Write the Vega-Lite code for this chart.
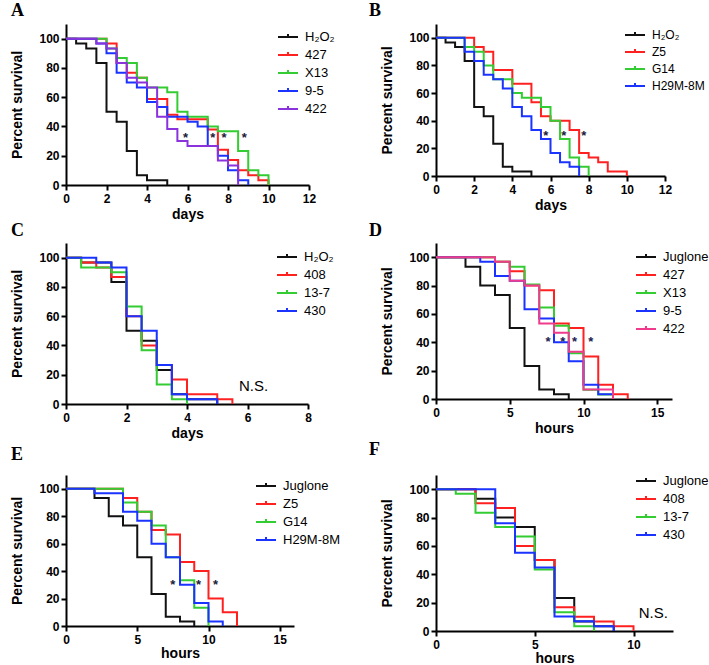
{
"$schema": "https://vega.github.io/schema/vega-lite/v6.json",
"padding": {"left": 10, "top": 2, "right": 0, "bottom": 0},
"background": "white",
"config": {
  "view": {"stroke": null},
  "axis": {"grid": false, "domainColor": "black", "domainWidth": 2, "tickColor": "black", "tickWidth": 2, "tickSize": 5,
    "labelFont": "Liberation Sans", "labelFontWeight": "bold", "labelFontSize": 12, "labelColor": "black", "labelPadding": 3, "labelOverlap": false, "labelFlush": false,
    "titleFont": "Liberation Sans", "titleFontWeight": "bold", "titleFontSize": 14, "titleColor": "black"},
  "axisX": {"titlePadding": 3},
  "axisY": {"titlePadding": 14, "labelPadding": 2},
  "legend": {"title": null, "labelFont": "Liberation Sans", "labelFontSize": 13, "labelColor": "black", "symbolStrokeWidth": 2,
    "symbolSize": 400, "symbolType": "M-1,0H1M0,0V-0.3", "rowPadding": -4, "labelOffset": 6},
  "title": {"font": "Liberation Serif", "fontSize": 18, "fontWeight": "bold", "anchor": "start", "frame": "bounds", "color": "black", "offset": 0},
  "text": {"font": "Liberation Sans"}
},
"datasets": {
  "A": [
    {"g":"H₂O₂","t":0,"s":100},{"g":"H₂O₂","t":0.5,"s":96.7},{"g":"H₂O₂","t":1,"s":93.3},{"g":"H₂O₂","t":1.5,"s":83.3},{"g":"H₂O₂","t":2,"s":50},{"g":"H₂O₂","t":2.5,"s":43.3},{"g":"H₂O₂","t":3,"s":23.3},{"g":"H₂O₂","t":3.5,"s":6.7},{"g":"H₂O₂","t":4,"s":3.3},{"g":"H₂O₂","t":5,"s":0},
    {"g":"427","t":0,"s":100},{"g":"427","t":2,"s":96.7},{"g":"427","t":2.5,"s":83.3},{"g":"427","t":3,"s":76.7},{"g":"427","t":3.5,"s":73.3},{"g":"427","t":4,"s":58.7},{"g":"427","t":5,"s":48},{"g":"427","t":5.5,"s":45},{"g":"427","t":7,"s":38},{"g":"427","t":7.5,"s":24},{"g":"427","t":8,"s":17},{"g":"427","t":8.5,"s":10},{"g":"427","t":9,"s":6.7},{"g":"427","t":9.5,"s":3.3},{"g":"427","t":10,"s":0},
    {"g":"X13","t":0,"s":100},{"g":"X13","t":2,"s":93.3},{"g":"X13","t":2.5,"s":86.7},{"g":"X13","t":3,"s":83.3},{"g":"X13","t":3.5,"s":73.3},{"g":"X13","t":4,"s":66.7},{"g":"X13","t":5,"s":63.3},{"g":"X13","t":5.5,"s":50},{"g":"X13","t":6,"s":46.7},{"g":"X13","t":7,"s":40},{"g":"X13","t":7.5,"s":36.7},{"g":"X13","t":8.5,"s":23.3},{"g":"X13","t":9,"s":10},{"g":"X13","t":9.5,"s":6.7},{"g":"X13","t":10,"s":0},
    {"g":"9-5","t":0,"s":100},{"g":"9-5","t":1.5,"s":96.7},{"g":"9-5","t":2,"s":90},{"g":"9-5","t":2.5,"s":76.7},{"g":"9-5","t":3,"s":70},{"g":"9-5","t":3.5,"s":66.7},{"g":"9-5","t":4,"s":56.7},{"g":"9-5","t":4.5,"s":53.3},{"g":"9-5","t":5,"s":46.7},{"g":"9-5","t":6,"s":43.3},{"g":"9-5","t":6.5,"s":40},{"g":"9-5","t":7,"s":26.7},{"g":"9-5","t":7.5,"s":20},{"g":"9-5","t":8,"s":10},{"g":"9-5","t":8.5,"s":3.3},{"g":"9-5","t":9,"s":0},
    {"g":"422","t":0,"s":100},{"g":"422","t":1.5,"s":96.7},{"g":"422","t":2,"s":93.3},{"g":"422","t":2.5,"s":83.3},{"g":"422","t":3,"s":73.3},{"g":"422","t":3.5,"s":70},{"g":"422","t":4,"s":66.7},{"g":"422","t":4.5,"s":46.7},{"g":"422","t":5,"s":38.3},{"g":"422","t":5.5,"s":30},{"g":"422","t":6,"s":26.7},{"g":"422","t":7.5,"s":16.7},{"g":"422","t":8,"s":13.3},{"g":"422","t":8.5,"s":0}
  ],
  "B": [
    {"g":"H₂O₂","t":0,"s":100},{"g":"H₂O₂","t":0.5,"s":96.7},{"g":"H₂O₂","t":1,"s":93.3},{"g":"H₂O₂","t":1.5,"s":83.3},{"g":"H₂O₂","t":2,"s":50},{"g":"H₂O₂","t":2.5,"s":43.3},{"g":"H₂O₂","t":3,"s":23.3},{"g":"H₂O₂","t":3.5,"s":6.7},{"g":"H₂O₂","t":4,"s":3.3},{"g":"H₂O₂","t":5,"s":0},
    {"g":"Z5","t":0,"s":100},{"g":"Z5","t":2,"s":93.3},{"g":"Z5","t":2.5,"s":90},{"g":"Z5","t":3,"s":76.7},{"g":"Z5","t":4,"s":66.7},{"g":"Z5","t":5,"s":53.3},{"g":"Z5","t":5.5,"s":43.3},{"g":"Z5","t":6,"s":40},{"g":"Z5","t":7,"s":33.3},{"g":"Z5","t":7.5,"s":16.7},{"g":"Z5","t":8,"s":13.3},{"g":"Z5","t":8.5,"s":10},{"g":"Z5","t":9,"s":3.3},{"g":"Z5","t":10,"s":0},
    {"g":"G14","t":0,"s":100},{"g":"G14","t":1.5,"s":93.3},{"g":"G14","t":2,"s":90},{"g":"G14","t":2.5,"s":80},{"g":"G14","t":3,"s":70},{"g":"G14","t":4,"s":60},{"g":"G14","t":4.5,"s":56.7},{"g":"G14","t":5.5,"s":50},{"g":"G14","t":6,"s":40},{"g":"G14","t":6.5,"s":26.7},{"g":"G14","t":7,"s":13.3},{"g":"G14","t":7.5,"s":6.7},{"g":"G14","t":8,"s":0},
    {"g":"H29M-8M","t":0,"s":100},{"g":"H29M-8M","t":1.5,"s":90},{"g":"H29M-8M","t":2,"s":83.3},{"g":"H29M-8M","t":2.5,"s":73.3},{"g":"H29M-8M","t":3,"s":70},{"g":"H29M-8M","t":3.5,"s":63.3},{"g":"H29M-8M","t":4,"s":50},{"g":"H29M-8M","t":4.5,"s":43.3},{"g":"H29M-8M","t":5,"s":33.3},{"g":"H29M-8M","t":5.5,"s":26.7},{"g":"H29M-8M","t":6,"s":16.7},{"g":"H29M-8M","t":6.5,"s":10},{"g":"H29M-8M","t":7,"s":6.7},{"g":"H29M-8M","t":7.5,"s":0}
  ],
  "C": [
    {"g":"H₂O₂","t":0,"s":100},{"g":"H₂O₂","t":0.5,"s":96.7},{"g":"H₂O₂","t":1.5,"s":83.3},{"g":"H₂O₂","t":2,"s":50},{"g":"H₂O₂","t":2.5,"s":43.3},{"g":"H₂O₂","t":3,"s":23.3},{"g":"H₂O₂","t":3.5,"s":6.7},{"g":"H₂O₂","t":4,"s":3.3},{"g":"H₂O₂","t":5,"s":0},
    {"g":"408","t":0,"s":100},{"g":"408","t":0.5,"s":96.7},{"g":"408","t":1,"s":93.3},{"g":"408","t":1.5,"s":86.7},{"g":"408","t":2,"s":60},{"g":"408","t":2.5,"s":40},{"g":"408","t":3,"s":26.7},{"g":"408","t":3.5,"s":16.7},{"g":"408","t":4,"s":6.7},{"g":"408","t":5,"s":3.3},{"g":"408","t":5.5,"s":0},
    {"g":"13-7","t":0,"s":100},{"g":"13-7","t":0.5,"s":93.3},{"g":"13-7","t":1.5,"s":90},{"g":"13-7","t":2,"s":66.7},{"g":"13-7","t":2.5,"s":36.7},{"g":"13-7","t":3,"s":13.3},{"g":"13-7","t":3.5,"s":3.3},{"g":"13-7","t":4,"s":0},
    {"g":"430","t":0,"s":100},{"g":"430","t":1,"s":96.7},{"g":"430","t":1.5,"s":93.3},{"g":"430","t":2,"s":60},{"g":"430","t":2.5,"s":50},{"g":"430","t":3,"s":26.7},{"g":"430","t":3.5,"s":6.7},{"g":"430","t":4,"s":3.3},{"g":"430","t":5,"s":0}
  ],
  "D": [
    {"g":"Juglone","t":0,"s":100},{"g":"Juglone","t":2,"s":93.3},{"g":"Juglone","t":3,"s":80},{"g":"Juglone","t":4,"s":73.3},{"g":"Juglone","t":5,"s":50},{"g":"Juglone","t":6,"s":23.3},{"g":"Juglone","t":7,"s":6.7},{"g":"Juglone","t":8,"s":3.3},{"g":"Juglone","t":9,"s":0},
    {"g":"427","t":0,"s":100},{"g":"427","t":4,"s":96.7},{"g":"427","t":5,"s":90},{"g":"427","t":6,"s":80},{"g":"427","t":7,"s":76.7},{"g":"427","t":8,"s":53.3},{"g":"427","t":9,"s":50},{"g":"427","t":10,"s":30},{"g":"427","t":11,"s":10},{"g":"427","t":12,"s":3.3},{"g":"427","t":13,"s":0},
    {"g":"X13","t":0,"s":100},{"g":"X13","t":4,"s":96.7},{"g":"X13","t":5,"s":93.3},{"g":"X13","t":6,"s":80.7},{"g":"X13","t":7,"s":64.5},{"g":"X13","t":8,"s":51.6},{"g":"X13","t":9,"s":32.3},{"g":"X13","t":10,"s":6.5},{"g":"X13","t":11,"s":3.2},{"g":"X13","t":12,"s":0},
    {"g":"9-5","t":0,"s":100},{"g":"9-5","t":3,"s":96.7},{"g":"9-5","t":4,"s":86.7},{"g":"9-5","t":5,"s":83.3},{"g":"9-5","t":6,"s":63.3},{"g":"9-5","t":7,"s":56.7},{"g":"9-5","t":8,"s":40},{"g":"9-5","t":9,"s":26.7},{"g":"9-5","t":10,"s":10},{"g":"9-5","t":11,"s":3.3},{"g":"9-5","t":12,"s":0},
    {"g":"422","t":0,"s":100},{"g":"422","t":4,"s":96.7},{"g":"422","t":5,"s":83.3},{"g":"422","t":6,"s":80},{"g":"422","t":7,"s":53.3},{"g":"422","t":8,"s":46.7},{"g":"422","t":9,"s":33.3},{"g":"422","t":10,"s":6.7},{"g":"422","t":12,"s":0}
  ],
  "E": [
    {"g":"Juglone","t":0,"s":100},{"g":"Juglone","t":2,"s":93.3},{"g":"Juglone","t":3,"s":80},{"g":"Juglone","t":4,"s":73.3},{"g":"Juglone","t":5,"s":50},{"g":"Juglone","t":6,"s":23.3},{"g":"Juglone","t":7,"s":6.7},{"g":"Juglone","t":8,"s":3.3},{"g":"Juglone","t":9,"s":0},
    {"g":"Z5","t":0,"s":100},{"g":"Z5","t":4,"s":93.3},{"g":"Z5","t":5,"s":83.3},{"g":"Z5","t":6,"s":70},{"g":"Z5","t":7,"s":66.7},{"g":"Z5","t":8,"s":46.7},{"g":"Z5","t":9,"s":40},{"g":"Z5","t":10,"s":20},{"g":"Z5","t":11,"s":10},{"g":"Z5","t":12,"s":0},
    {"g":"G14","t":0,"s":100},{"g":"G14","t":4,"s":90},{"g":"G14","t":5,"s":83.3},{"g":"G14","t":6,"s":73.3},{"g":"G14","t":7,"s":50},{"g":"G14","t":8,"s":33.3},{"g":"G14","t":9,"s":13.3},{"g":"G14","t":10,"s":0},
    {"g":"H29M-8M","t":0,"s":100},{"g":"H29M-8M","t":2,"s":96.7},{"g":"H29M-8M","t":4,"s":83.3},{"g":"H29M-8M","t":5,"s":76.7},{"g":"H29M-8M","t":6,"s":60},{"g":"H29M-8M","t":7,"s":50},{"g":"H29M-8M","t":8,"s":30},{"g":"H29M-8M","t":9,"s":16.7},{"g":"H29M-8M","t":10,"s":3.3},{"g":"H29M-8M","t":11,"s":0}
  ],
  "F": [
    {"g":"Juglone","t":0,"s":100},{"g":"Juglone","t":2,"s":93.3},{"g":"Juglone","t":3,"s":80},{"g":"Juglone","t":4,"s":73.3},{"g":"Juglone","t":5,"s":50},{"g":"Juglone","t":6,"s":23.3},{"g":"Juglone","t":7,"s":6.7},{"g":"Juglone","t":8,"s":3.3},{"g":"Juglone","t":9,"s":0},
    {"g":"408","t":0,"s":100},{"g":"408","t":2,"s":90},{"g":"408","t":3,"s":86.7},{"g":"408","t":4,"s":60},{"g":"408","t":5,"s":50},{"g":"408","t":6,"s":16.7},{"g":"408","t":7,"s":10},{"g":"408","t":8,"s":6.7},{"g":"408","t":9,"s":3.3},{"g":"408","t":10,"s":0},
    {"g":"13-7","t":0,"s":100},{"g":"13-7","t":1,"s":96.7},{"g":"13-7","t":2,"s":83.3},{"g":"13-7","t":3,"s":73.3},{"g":"13-7","t":4,"s":66.7},{"g":"13-7","t":5,"s":43.3},{"g":"13-7","t":6,"s":13.3},{"g":"13-7","t":7,"s":3.3},{"g":"13-7","t":8,"s":0},
    {"g":"430","t":0,"s":100},{"g":"430","t":3,"s":75.9},{"g":"430","t":4,"s":55.2},{"g":"430","t":5,"s":44.8},{"g":"430","t":6,"s":10.3},{"g":"430","t":7,"s":6.9},{"g":"430","t":8,"s":3.4},{"g":"430","t":9,"s":0}
  ],
  "starsA": [{"t":5.9,"s":34},{"t":7.25,"s":34},{"t":7.8,"s":34},{"t":8.8,"s":34}],
  "starsB": [{"t":5.75,"s":31},{"t":6.7,"s":31},{"t":7.75,"s":31}],
  "starsD": [{"t":7.6,"s":42},{"t":8.6,"s":42},{"t":9.4,"s":42},{"t":10.5,"s":42}],
  "starsE": [{"t":7.5,"s":32},{"t":9.3,"s":32},{"t":10.5,"s":32}],
  "nsC": [{"t":6.2,"s":12,"label":"N.S."}],
  "nsF": [{"t":11.0,"s":13,"label":"N.S."}]
},
"columns": 2,
"bounds": "full",
"spacing": {"row": 1, "column": 27},
"resolve": {"scale": {"color": "independent", "x": "independent", "y": "independent"}, "legend": {"color": "independent"}},
"concat": [
  {"width": 243, "height": 161, "title": {"text": "A"},
   "layer": [
    {"data": {"name": "A"}, "mark": {"type": "line", "interpolate": "step-after", "strokeWidth": 2},
     "encoding": {
      "x": {"field": "t", "type": "quantitative", "scale": {"domain": [0, 12]}, "axis": {"values": [0,2,4,6,8,10,12], "tickCount": 20, "format": "d", "title": "days", "labelFlush": false}},
      "y": {"field": "s", "type": "quantitative", "scale": {"domain": [0, 110]}, "axis": {"values": [0,20,40,60,80,100], "tickCount": 20, "format": "d", "title": "Percent survival", "labelOverlap": false}},
      "color": {"field": "g", "type": "nominal", "scale": {"domain": ["H₂O₂","427","X13","9-5","422"], "range": ["#111111","#ff2020","#33cc33","#1a33ff","#8a33dd"]}, "legend": {"orient": "none", "legendX": 211, "legendY": 2}}
     }},
    {"data": {"name": "starsA"}, "mark": {"type": "text", "text": "*", "fontSize": 13, "fontWeight": "bold", "color": "#202038", "dy": 3},
     "encoding": {"x": {"field": "t", "type": "quantitative"}, "y": {"field": "s", "type": "quantitative"}}}
   ]},
  {"width": 229, "height": 152, "title": {"text": "B", "dx": -12},
   "layer": [
    {"data": {"name": "B"}, "mark": {"type": "line", "interpolate": "step-after", "strokeWidth": 2},
     "encoding": {
      "x": {"field": "t", "type": "quantitative", "scale": {"domain": [0, 12]}, "axis": {"values": [0,2,4,6,8,10,12], "tickCount": 20, "format": "d", "title": "days", "labelFlush": false}},
      "y": {"field": "s", "type": "quantitative", "scale": {"domain": [0, 110]}, "axis": {"values": [0,20,40,60,80,100], "tickCount": 20, "format": "d", "title": "Percent survival", "labelOverlap": false}},
      "color": {"field": "g", "type": "nominal", "scale": {"domain": ["H₂O₂","Z5","G14","H29M-8M"], "range": ["#111111","#ff2020","#33cc33","#1a33ff"]}, "legend": {"orient": "none", "legendX": 188, "legendY": 0, "labelFontSize": 12}}
     }},
    {"data": {"name": "starsB"}, "mark": {"type": "text", "text": "*", "fontSize": 13, "fontWeight": "bold", "color": "#202038", "dy": 3},
     "encoding": {"x": {"field": "t", "type": "quantitative"}, "y": {"field": "s", "type": "quantitative"}}}
   ]},
  {"width": 242, "height": 161, "title": {"text": "C", "offset": 3},
   "layer": [
    {"data": {"name": "C"}, "mark": {"type": "line", "interpolate": "step-after", "strokeWidth": 2},
     "encoding": {
      "x": {"field": "t", "type": "quantitative", "scale": {"domain": [0, 8]}, "axis": {"values": [0,2,4,6,8], "tickCount": 20, "format": "d", "title": "days", "labelFlush": false}},
      "y": {"field": "s", "type": "quantitative", "scale": {"domain": [0, 110]}, "axis": {"values": [0,20,40,60,80,100], "tickCount": 20, "format": "d", "title": "Percent survival", "labelOverlap": false}},
      "color": {"field": "g", "type": "nominal", "scale": {"domain": ["H₂O₂","408","13-7","430"], "range": ["#111111","#ff2020","#33cc33","#1a33ff"]}, "legend": {"orient": "none", "legendX": 210, "legendY": 3}}
     }},
    {"data": {"name": "nsC"}, "mark": {"type": "text", "fontSize": 15, "color": "black"},
     "encoding": {"x": {"field": "t", "type": "quantitative"}, "y": {"field": "s", "type": "quantitative"}, "text": {"field": "label"}}}
   ]},
  {"width": 236, "height": 156, "title": {"text": "D", "dx": -12, "offset": 3},
   "layer": [
    {"data": {"name": "D"}, "mark": {"type": "line", "interpolate": "step-after", "strokeWidth": 2},
     "encoding": {
      "x": {"field": "t", "type": "quantitative", "scale": {"domain": [0, 15]}, "axis": {"values": [0,5,10,15], "tickCount": 20, "format": "d", "title": "hours", "labelFlush": false}},
      "y": {"field": "s", "type": "quantitative", "scale": {"domain": [0, 110]}, "axis": {"values": [0,20,40,60,80,100], "tickCount": 20, "format": "d", "title": "Percent survival", "labelOverlap": false}},
      "color": {"field": "g", "type": "nominal", "scale": {"domain": ["Juglone","427","X13","9-5","422"], "range": ["#111111","#ff2020","#33cc33","#1a33ff","#f03a8c"]}, "legend": {"orient": "none", "legendX": 199, "legendY": 3}}
     }},
    {"data": {"name": "starsD"}, "mark": {"type": "text", "text": "*", "fontSize": 13, "fontWeight": "bold", "color": "#202050", "dy": 3},
     "encoding": {"x": {"field": "t", "type": "quantitative"}, "y": {"field": "s", "type": "quantitative"}}}
   ]},
  {"width": 228, "height": 151, "title": {"text": "E", "offset": 11},
   "layer": [
    {"data": {"name": "E"}, "mark": {"type": "line", "interpolate": "step-after", "strokeWidth": 2},
     "encoding": {
      "x": {"field": "t", "type": "quantitative", "scale": {"domain": [0, 15]}, "axis": {"values": [0,5,10,15], "tickCount": 20, "format": "d", "title": "hours", "labelFlush": false, "titlePadding": 1}},
      "y": {"field": "s", "type": "quantitative", "scale": {"domain": [0, 110]}, "axis": {"values": [0,20,40,60,80,100], "tickCount": 20, "format": "d", "title": "Percent survival", "labelOverlap": false}},
      "color": {"field": "g", "type": "nominal", "scale": {"domain": ["Juglone","Z5","G14","H29M-8M"], "range": ["#111111","#ff2020","#33cc33","#1a33ff"]}, "legend": {"orient": "none", "legendX": 189, "legendY": 0}}
     }},
    {"data": {"name": "starsE"}, "mark": {"type": "text", "text": "*", "fontSize": 13, "fontWeight": "bold", "color": "#202038", "dy": 3},
     "encoding": {"x": {"field": "t", "type": "quantitative"}, "y": {"field": "s", "type": "quantitative"}}}
   ]},
  {"width": 237, "height": 156, "title": {"text": "F", "dx": -12, "offset": 11},
   "layer": [
    {"data": {"name": "F"}, "mark": {"type": "line", "interpolate": "step-after", "strokeWidth": 2},
     "encoding": {
      "x": {"field": "t", "type": "quantitative", "scale": {"domain": [0, 12]}, "axis": {"values": [0,5,10], "tickCount": 20, "format": "d", "title": "hours", "labelFlush": false, "titlePadding": 1}},
      "y": {"field": "s", "type": "quantitative", "scale": {"domain": [0, 110]}, "axis": {"values": [0,20,40,60,80,100], "tickCount": 20, "format": "d", "title": "Percent survival", "labelOverlap": false}},
      "color": {"field": "g", "type": "nominal", "scale": {"domain": ["Juglone","408","13-7","430"], "range": ["#111111","#ff2020","#33cc33","#1a33ff"]}, "legend": {"orient": "none", "legendX": 199, "legendY": -5}}
     }},
    {"data": {"name": "nsF"}, "mark": {"type": "text", "fontSize": 15, "color": "black"},
     "encoding": {"x": {"field": "t", "type": "quantitative"}, "y": {"field": "s", "type": "quantitative"}, "text": {"field": "label"}}}
   ]}
]
}
